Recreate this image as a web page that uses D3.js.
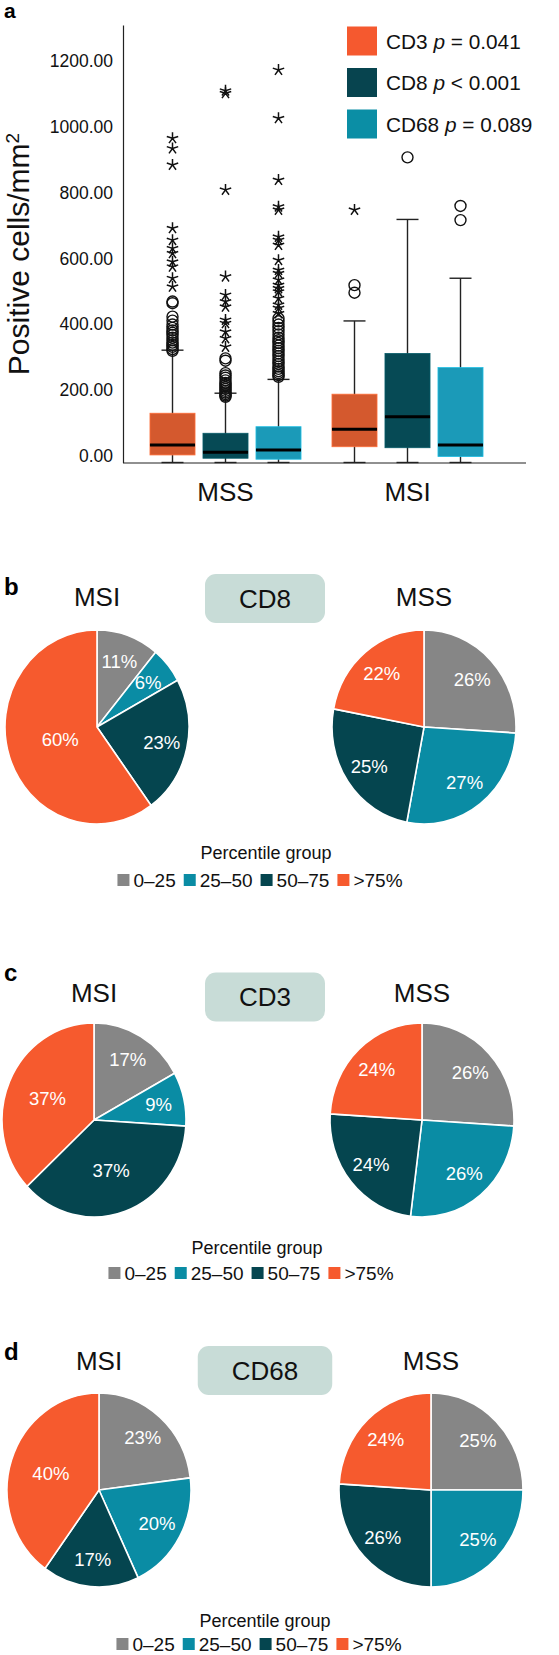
<!DOCTYPE html>
<html><head><meta charset="utf-8">
<script src="https://cdn.jsdelivr.net/npm/d3@7"></script>
<style>
body{margin:0;background:#fff}
svg{display:block}
text{font-family:"Liberation Sans",Arial,Helvetica,sans-serif}
</style>
</head><body>
<svg id="chart" width="559" height="1655"></svg>
<script>
// ---------------- DATA ----------------
const groups = ["MSS", "MSI"];
const markers = ["CD3", "CD8", "CD68"];
const pTexts = ["= 0.041", "< 0.001", "= 0.089"];
const yTicks = [0, 200, 400, 600, 800, 1000, 1200];

// box statistics: [lower whisker, Q1, median, Q3, upper whisker]
const mssCD3 = [0, 23, 53, 150, 342];
const mssCD8 = [0, 13, 31, 89, 211];
const mssCD68 = [0, 10, 38, 109, 253];
const msiCD3 = [0, 48, 101, 208, 431];
const msiCD8 = [0, 45, 139, 332, 740];
const msiCD68 = [0, 18, 53, 289, 561];

// outliers (circles) and extremes (stars)
const mssCD3Out = [340, 345, 352, 358, 365, 372, 380, 388, 395, 402, 410, 420, 432, 444, 485, 490];
const mssCD3Ext = [535, 561, 596, 611, 637, 652, 677, 713, 906, 956, 987];
const mssCD8Out = [200, 204, 208, 213, 218, 224, 230, 236, 242, 250, 258, 265, 272, 310, 317];
const mssCD8Ext = [352, 378, 398, 424, 434, 474, 490, 510, 566, 830, 1124, 1132];
const mssCD68Out = [261, 266, 272, 278, 285, 292, 300, 308, 316, 324, 332, 340, 348, 356, 364, 372, 380, 390, 400, 410, 420, 430, 439];
const mssCD68Ext = [454, 470, 480, 500, 520, 530, 540, 556, 576, 586, 616, 662, 677, 687, 769, 779, 860, 1048, 1195];
const msiCD3Out = [517, 540];
const msiCD3Ext = [769];
const msiCD8Out = [929];
const msiCD8Ext = [];
const msiCD68Out = [738, 781];
const msiCD68Ext = [];

// pie data (percent), order: 0–25, 25–50, 50–75, >75%
const percentileGroups = ["0–25", "25–50", "50–75", ">75%"];
const cd8MSI = [11, 6, 23, 60];
const cd8MSS = [26, 27, 25, 22];
const cd3MSI = [17, 9, 37, 37];
const cd3MSS = [26, 26, 24, 24];
const cd68MSI = [23, 20, 17, 40];
const cd68MSS = [25, 25, 26, 24];

// ---------------- STYLE ----------------
const boxColors = {CD3: "#d4592e", CD8: "#064a55", CD68: "#1b9ab8"};
const legendColors = {CD3: "#f5592f", CD8: "#07444f", CD68: "#0b8ea5"};
const pieColors = ["#868686", "#0a8ca4", "#05454f", "#f65a2e"];

const svg = d3.select("#chart");

// ---------------- PANEL A: BOX PLOT ----------------
const boxTable = [];
const statsBy = {MSS: {CD3: mssCD3, CD8: mssCD8, CD68: mssCD68}, MSI: {CD3: msiCD3, CD8: msiCD8, CD68: msiCD68}};
const outBy = {MSS: {CD3: mssCD3Out, CD8: mssCD8Out, CD68: mssCD68Out}, MSI: {CD3: msiCD3Out, CD8: msiCD8Out, CD68: msiCD68Out}};
const extBy = {MSS: {CD3: mssCD3Ext, CD8: mssCD8Ext, CD68: mssCD68Ext}, MSI: {CD3: msiCD3Ext, CD8: msiCD8Ext, CD68: msiCD68Ext}};
groups.forEach(g => markers.forEach(m => {
  const s = statsBy[g][m];
  boxTable.push({g, m, lo: s[0], q1: s[1], med: s[2], q3: s[3], hi: s[4], out: outBy[g][m], ext: extBy[g][m]});
}));

const y = d3.scaleLinear().domain([0, 1332]).range([462.5, 25]);
const x0 = d3.scaleBand().domain(groups).range([134.5, 498.5]);
const x1 = d3.scaleBand().domain(markers).range([0, x0.bandwidth()]).paddingInner(0.15).paddingOuter(0.292);
const bw = x1.bandwidth();
const cx = d => x0(d.g) + x1(d.m) + bw / 2;

const gA = svg.append("g");

gA.append("text").attr("x", 4).attr("y", 18).attr("font-size", 21).attr("font-weight", "bold").text("a");

// y axis
const yAxis = gA.append("g").attr("transform", "translate(123,0)")
  .call(d3.axisLeft(y).tickValues(yTicks).tickFormat(d3.format(".2f")).tickSize(0).tickSizeOuter(0).tickPadding(10));
yAxis.select(".domain").attr("stroke", "#222").attr("stroke-width", 1.2);
yAxis.selectAll("text").attr("font-size", 17.5).attr("fill", "#111").attr("font-family", "Liberation Sans, Arial, sans-serif").attr("y", -7);

// x axis
gA.append("line").attr("x1", 123).attr("x2", 526).attr("y1", y(0) + 0.5).attr("y2", y(0) + 0.5).attr("stroke", "#222").attr("stroke-width", 1.2);
const xAxis = gA.append("g").attr("transform", `translate(0,${y(0)})`)
  .call(d3.axisBottom(x0).tickSize(0).tickPadding(20.5));
xAxis.select(".domain").remove();
xAxis.selectAll("text").attr("font-size", 26).attr("fill", "#111").attr("font-family", "Liberation Sans, Arial, sans-serif");

// y label
gA.append("text")
  .attr("transform", "translate(29,254) rotate(-90)")
  .attr("text-anchor", "middle").attr("font-size", 30).attr("fill", "#111")
  .call(t => { t.append("tspan").text("Positive cells/mm"); t.append("tspan").attr("baseline-shift", "super").attr("font-size", 19).text("2"); });

// boxes
const boxes = gA.selectAll(".box").data(boxTable).join("g").attr("class", "box");
const capW = 22;
boxes.append("line").attr("x1", cx).attr("x2", cx).attr("y1", d => y(d.lo)).attr("y2", d => y(d.hi)).attr("stroke", "#222").attr("stroke-width", 1.4);
boxes.append("line").attr("x1", d => cx(d) - capW / 2).attr("x2", d => cx(d) + capW / 2).attr("y1", d => y(d.hi)).attr("y2", d => y(d.hi)).attr("stroke", "#222").attr("stroke-width", 1.4);
boxes.append("line").attr("x1", d => cx(d) - capW / 2).attr("x2", d => cx(d) + capW / 2).attr("y1", d => y(d.lo)).attr("y2", d => y(d.lo)).attr("stroke", "#222").attr("stroke-width", 1.4);
boxes.append("rect").attr("x", d => x0(d.g) + x1(d.m)).attr("width", bw)
  .attr("y", d => y(d.q3)).attr("height", d => y(d.q1) - y(d.q3))
  .attr("fill", d => boxColors[d.m]).attr("stroke", d => d3.color(boxColors[d.m]).brighter(0.6)).attr("stroke-width", 0.8);
boxes.append("line").attr("x1", d => x0(d.g) + x1(d.m)).attr("x2", d => x0(d.g) + x1(d.m) + bw)
  .attr("y1", d => y(d.med)).attr("y2", d => y(d.med)).attr("stroke", "#000").attr("stroke-width", 3);

// outliers
boxes.each(function(d) {
  const sel = d3.select(this);
  sel.selectAll("circle.o").data(d.out).join("circle").attr("class", "o")
    .attr("cx", cx(d)).attr("cy", v => y(v)).attr("r", 5.5)
    .attr("fill", "none").attr("stroke", "#111").attr("stroke-width", 1.4);
  const arm = 6;
  let p = "";
  for (let i = 0; i < 5; i++) {
    const a = (-90 + i * 72) * Math.PI / 180;
    p += `M0,0L${(arm * Math.cos(a)).toFixed(2)},${(arm * Math.sin(a)).toFixed(2)}`;
  }
  sel.selectAll("path.s").data(d.ext).join("path").attr("class", "s")
    .attr("transform", v => `translate(${cx(d)},${y(v)})`)
    .attr("d", p).attr("stroke", "#111").attr("stroke-width", 1.5).attr("fill", "none");
});

// legend a
const legA = gA.append("g");
markers.forEach((m, i) => {
  const cy = 41 + i * 41.5;
  legA.append("rect").attr("x", 347).attr("y", cy - 14.5).attr("width", 30).attr("height", 29).attr("fill", legendColors[m]);
  const t = legA.append("text").attr("x", 386).attr("y", cy + 7.5).attr("font-size", 20.8).attr("fill", "#111");
  t.append("tspan").text(m + " ");
  t.append("tspan").attr("font-style", "italic").text("p");
  t.append("tspan").text(" " + pTexts[i]);
});

// ---------------- PANELS B-D: PIES ----------------
const pieLayout = [
  {letter: "b", marker: "CD8", msi: cd8MSI, mss: cd8MSS, letterY: 595, titleY: 606, badgeY: 598.5, cy: 727, msiX: 97, mssX: 424, pgY: 853, legY: 880, legX: 260},
  {letter: "c", marker: "CD3", msi: cd3MSI, mss: cd3MSS, letterY: 981, titleY: 1002, badgeY: 997, cy: 1120, msiX: 94, mssX: 422, pgY: 1248, legY: 1273, legX: 251},
  {letter: "d", marker: "CD68", msi: cd68MSI, mss: cd68MSS, letterY: 1360, titleY: 1370, badgeY: 1370.5, cy: 1490, msiX: 99, mssX: 431, pgY: 1621, legY: 1644, legX: 259}
];

const R = 92, stretch = 1.055;
const pie = d3.pie().sort(null).value(d => d);
const arc = d3.arc().innerRadius(0).outerRadius(R);

function drawPie(g, values, x, yc) {
  const arcs = pie(values);
  const pg = g.append("g").attr("transform", `translate(${x},${yc})`);
  const sg = pg.append("g").attr("transform", `scale(1,${stretch})`);
  sg.selectAll("path").data(arcs).join("path")
    .attr("d", arc).attr("fill", (d, i) => pieColors[i])
    .attr("stroke", "#fff").attr("stroke-width", 1.6).attr("stroke-linejoin", "round");
  pg.selectAll("text").data(arcs).join("text")
    .attr("transform", d => {
      const frac = (d.endAngle - d.startAngle) / (2 * Math.PI);
      const lr = frac > 0.5 ? R * 0.42 : frac > 0.3 ? R * 0.55 : R * 0.72;
      const c = d3.arc().innerRadius(lr).outerRadius(lr).centroid(d);
      return `translate(${c[0]},${c[1] * stretch})`;
    })
    .attr("text-anchor", "middle").attr("dy", "0.35em")
    .attr("font-size", 18.5).attr("fill", "#fff")
    .text(d => d.data + "%");
}

pieLayout.forEach(P => {
  const g = svg.append("g");
  g.append("text").attr("x", 4).attr("y", P.letterY).attr("font-size", 24).attr("font-weight", "bold").text(P.letter);
  g.append("text").attr("x", P.msiX).attr("y", P.titleY).attr("text-anchor", "middle").attr("font-size", 26).attr("fill", "#111").text("MSI");
  g.append("text").attr("x", P.mssX).attr("y", P.titleY).attr("text-anchor", "middle").attr("font-size", 26).attr("fill", "#111").text("MSS");
  // badge
  const bt = g.append("text").attr("x", 265).attr("y", P.badgeY).attr("dy", "0.35em").attr("text-anchor", "middle").attr("font-size", 26).attr("fill", "#111").text(P.marker);
  const tw = bt.node().getComputedTextLength();
  g.insert("rect", "text").attr("x", 265 - tw / 2 - 34).attr("y", P.badgeY - 24.5).attr("width", tw + 68).attr("height", 49).attr("rx", 11).attr("fill", "#c8dcd7");
  drawPie(g, P.msi, P.msiX, P.cy);
  drawPie(g, P.mss, P.mssX, P.cy);
  // legend
  g.append("text").attr("x", P.legX + 6).attr("y", P.pgY).attr("dy", "0.35em").attr("text-anchor", "middle").attr("font-size", 18).attr("fill", "#111").text("Percentile group");
  const lg = g.append("g");
  let xx = 0;
  percentileGroups.forEach((lab, i) => {
    lg.append("rect").attr("x", xx).attr("y", P.legY - 6).attr("width", 12).attr("height", 12).attr("fill", pieColors[i]);
    const t = lg.append("text").attr("x", xx + 16).attr("y", P.legY).attr("dy", "0.35em").attr("font-size", 19).attr("fill", "#111").text(lab);
    xx += 16 + t.node().getComputedTextLength() + 8;
  });
  const total = xx - 8;
  lg.attr("transform", `translate(${P.legX - total / 2},0)`);
});
</script>
</body></html>
